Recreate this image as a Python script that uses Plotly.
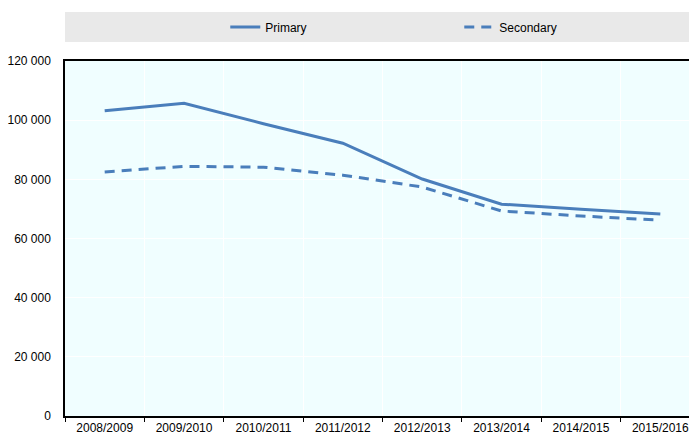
import plotly.graph_objects as go

years = ["2008/2009", "2009/2010", "2010/2011", "2011/2012",
         "2012/2013", "2013/2014", "2014/2015", "2015/2016"]
primary = [103200, 105700, 98800, 92200, 80100, 71600, 69900, 68300]
secondary = [82500, 84400, 84100, 81400, 77400, 69300, 67600, 66200]

y_ticks = [0, 20000, 40000, 60000, 80000, 100000, 120000]

blue = "#4a7ebb"
font = "Liberation Sans, Arial, sans-serif"

fig = go.Figure()
fig.add_trace(go.Scatter(x=years, y=primary, name="Primary", mode="lines",
                         line=dict(color=blue, width=3)))
fig.add_trace(go.Scatter(x=years, y=secondary, name="Secondary", mode="lines",
                         line=dict(color=blue, width=3, dash="10px,7px")))

fig.add_shape(type="rect", xref="paper", yref="paper", x0=0, x1=1.02,
              y0=1.0535, y1=1.138, fillcolor="#e9e9e9", line_width=0, layer="below")

fig.update_layout(
    width=700, height=434,
    margin=dict(l=65, r=0, t=61, b=18, autoexpand=False),
    paper_bgcolor="white", plot_bgcolor="#f0feff",
    separators=". ",
    font=dict(family=font, size=12, color="black"),
    showlegend=True,
    legend=dict(orientation="h", x=0.2524, xanchor="left", y=1.0958, yanchor="middle",
                bgcolor="rgba(0,0,0,0)", font=dict(size=12),
                entrywidth=189, entrywidthmode="pixels", traceorder="normal"),
    xaxis=dict(type="category", range=[-0.5, 7.5], showline=True, linecolor="black",
               linewidth=1.5, mirror=True, showgrid=True, gridcolor="white", gridwidth=1,
               tickson="boundaries", ticks="outside", ticklen=4, tickcolor="black",
               tickfont=dict(size=12), fixedrange=True, automargin=False),
    yaxis=dict(range=[0, 120000], tickvals=y_ticks, tickformat=",.0f",
               showline=True, linecolor="black", linewidth=1.5, showgrid=True,
               gridcolor="white", gridwidth=1, zeroline=False, ticks="",
               ticklabelstandoff=10, tickfont=dict(size=12), fixedrange=True,
               automargin=False),
)

post = ("document.body.style.margin='0';"
        "document.body.style.overflow='hidden';"
        "document.documentElement.style.overflow='hidden';")
fig.write_html("out.html", post_script=post, config={"displayModeBar": False})
